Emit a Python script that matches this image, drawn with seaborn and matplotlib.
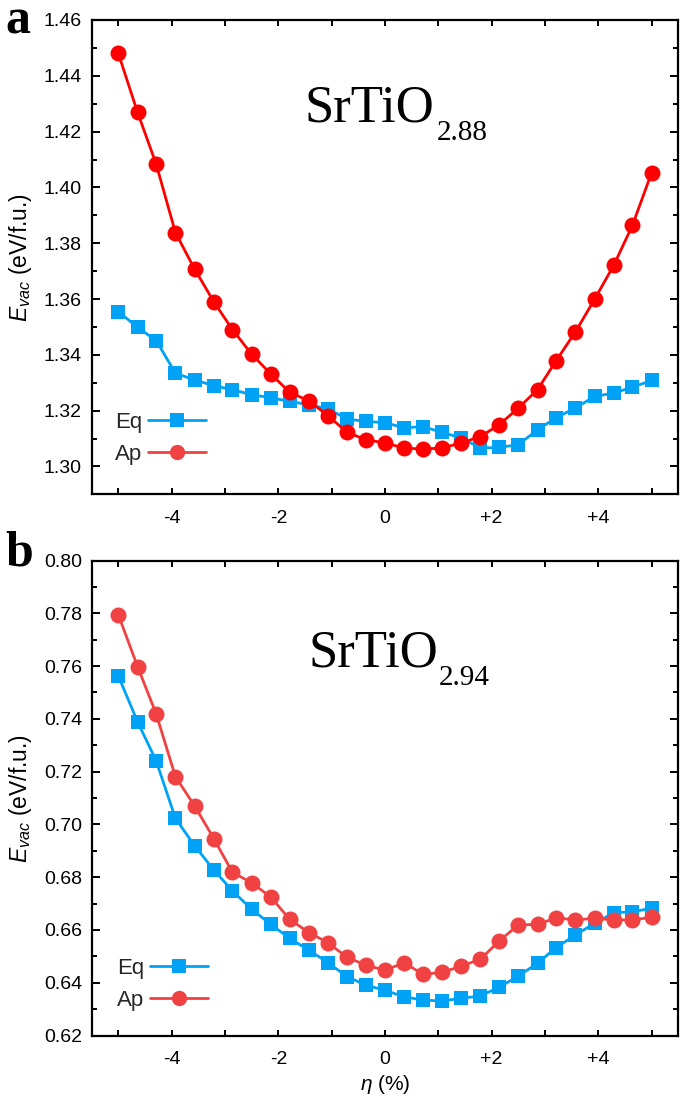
import matplotlib
matplotlib.use('Agg')
import matplotlib.pyplot as plt
import seaborn as sns
import pandas as pd
from matplotlib.ticker import MultipleLocator, FuncFormatter
from matplotlib.lines import Line2D

# ---------------- data ----------------
strain = [-5.0, -4.64, -4.29, -3.93, -3.57, -3.21, -2.86, -2.5, -2.14, -1.79,
          -1.43, -1.07, -0.71, -0.36, 0.0, 0.36, 0.71, 1.07, 1.43, 1.79,
          2.14, 2.5, 2.86, 3.21, 3.57, 3.93, 4.29, 4.64, 5.0]

a_eq = [1.3555, 1.3498, 1.3451, 1.3334, 1.3310, 1.3289, 1.3275, 1.3257, 1.3246, 1.3233,
        1.3221, 1.3206, 1.3170, 1.3161, 1.3157, 1.3138, 1.3143, 1.3122, 1.3102, 1.3066,
        1.3068, 1.3078, 1.3131, 1.3175, 1.3209, 1.3251, 1.3263, 1.3284, 1.3308]
a_ap = [1.4480, 1.4269, 1.4083, 1.3838, 1.3707, 1.3590, 1.3490, 1.3402, 1.3331, 1.3266,
        1.3235, 1.3182, 1.3122, 1.3096, 1.3084, 1.3066, 1.3062, 1.3066, 1.3084, 1.3107,
        1.3149, 1.3209, 1.3275, 1.3379, 1.3482, 1.3599, 1.3721, 1.3864, 1.4053]

b_eq = [0.7562, 0.7389, 0.7240, 0.7023, 0.6919, 0.6827, 0.6748, 0.6678, 0.6621, 0.6568,
        0.6524, 0.6476, 0.6423, 0.6391, 0.6371, 0.6347, 0.6334, 0.6331, 0.6341, 0.6350,
        0.6383, 0.6425, 0.6474, 0.6533, 0.6581, 0.6625, 0.6665, 0.6669, 0.6682]
b_ap = [0.7794, 0.7598, 0.7418, 0.7181, 0.7070, 0.6946, 0.6818, 0.6779, 0.6724, 0.6641,
        0.6590, 0.6552, 0.6496, 0.6467, 0.6447, 0.6476, 0.6432, 0.6439, 0.6463, 0.6489,
        0.6558, 0.6619, 0.6621, 0.6646, 0.6638, 0.6644, 0.6638, 0.6638, 0.6648]

series_labels = ["Eq", "Ap"]
panel_letters = ["a", "b"]
formula_main = "SrTiO"
formula_subs = ["2.88", "2.94"]
ylims = [(1.29, 1.46), (0.62, 0.80)]

# ---------------- style ----------------
sns.set_theme(style="ticks")
plt.rcParams['font.family'] = ['Liberation Sans', 'DejaVu Sans']
plt.rcParams['mathtext.fontset'] = 'custom'
plt.rcParams['mathtext.rm'] = 'Liberation Sans'
plt.rcParams['mathtext.it'] = 'Liberation Sans:italic'
plt.rcParams['mathtext.bf'] = 'Liberation Sans:bold'

BLUE = '#00A2F5'
RED_A = '#FF0000'
RED_B = '#F04242'
RED_LEG = '#F04242'

W, H = 685, 1107
DPI = 100
fig = plt.figure(figsize=(W / DPI, H / DPI), dpi=DPI)
fig.patch.set_facecolor('white')

left_px, right_px = 91.7, 678.3
panel_px = [(20.0, 494.3), (560.5, 1035.5)]
axes = []
for top, bot in panel_px:
    ax = fig.add_axes([left_px / W, 1 - bot / H, (right_px - left_px) / W, (bot - top) / H])
    axes.append(ax)

datasets = [(a_eq, a_ap, RED_A), (b_eq, b_ap, RED_B)]

title_pos = [(305.0, 121.7), (308.0, 666.7)]
sub_drop = 18.5
legend_pos = [(0.040, 0.1735), (0.043, 0.164)]

for i, ax in enumerate(axes):
    eq, ap, red = datasets[i]
    ax.set_facecolor('white')
    df_eq = pd.DataFrame({'x': strain, 'y': eq})
    df_ap = pd.DataFrame({'x': strain, 'y': ap})
    sns.lineplot(data=df_eq, x='x', y='y', ax=ax, color=BLUE, marker='s',
                 markersize=10, markeredgewidth=0, linewidth=2.0, zorder=3)
    sns.lineplot(data=df_ap, x='x', y='y', ax=ax, color=red, marker='o',
                 markersize=11.5, markeredgewidth=0, linewidth=2.0, zorder=4)

    ax.set_xlim(-5.5, 5.5)
    ax.set_ylim(*ylims[i])
    ax.xaxis.set_major_locator(MultipleLocator(1))
    ax.xaxis.set_major_formatter(FuncFormatter(
        lambda v, p: '' if int(round(v)) % 2 else ('0' if int(round(v)) == 0 else f'{int(round(v)):+d}')))
    ax.yaxis.set_major_locator(MultipleLocator(0.02))
    ax.yaxis.set_minor_locator(MultipleLocator(0.01))
    ax.yaxis.set_major_formatter(FuncFormatter(lambda v, p: f'{v:.2f}'))
    ax.tick_params(axis='both', which='both', direction='in', top=True, right=True,
                   colors='black', labelcolor='black', labelsize=14)
    ax.tick_params(axis='x', which='major', length=4.5, width=1.4, pad=11.5)
    ax.tick_params(axis='y', which='major', length=6, width=1.4, pad=7)
    ax.tick_params(axis='y', which='minor', length=3.5, width=1.4)
    for s in ax.spines.values():
        s.set_linewidth(1.6)
        s.set_color('black')
    ax.set_xlabel('')
    ax.set_ylabel(r'$E_{vac}$ (eV/f.u.)', fontsize=16.5, color='black')
    ax.yaxis.set_label_coords(-0.098, 0.5)

    handles = [Line2D([], [], color=BLUE, marker='s', markersize=9.5, markeredgewidth=0, linewidth=2.0),
               Line2D([], [], color=RED_LEG, marker='o', markersize=11, markeredgewidth=0, linewidth=2.0)]
    ax.legend(handles, series_labels, loc='upper left', bbox_to_anchor=legend_pos[i],
              frameon=False, markerfirst=False, fontsize=16, handlelength=2.6,
              handletextpad=0.25, labelspacing=0.5, borderpad=0, borderaxespad=0)

axes[1].set_xlabel(r'$\eta$ (%)', fontsize=15, color='black')
axes[1].xaxis.set_label_coords(0.5, -0.078)

# Panel letters
fig.text(5 / W, 1 - 33 / H, panel_letters[0], fontsize=36, fontweight='bold',
         family='Liberation Serif', ha='left', va='baseline', color='black')
fig.text(5 / W, 1 - 565 / H, panel_letters[1], fontsize=36, fontweight='bold',
         family='Liberation Serif', ha='left', va='baseline', color='black')

# Formula titles
fig.canvas.draw()
renderer = fig.canvas.get_renderer()
for i, ax in enumerate(axes):
    xpx, ypx = title_pos[i]
    t = fig.text(xpx / W, 1 - ypx / H, formula_main, fontsize=38, family='Liberation Serif',
                 ha='left', va='baseline', color='black')
    bb = t.get_window_extent(renderer=renderer)
    fig.text((bb.x1 + 1.5) / W, 1 - (ypx + sub_drop) / H, formula_subs[i], fontsize=21,
             family='Liberation Serif', ha='left', va='baseline', color='black')

fig.savefig('out.png', dpi=DPI, facecolor='white')
